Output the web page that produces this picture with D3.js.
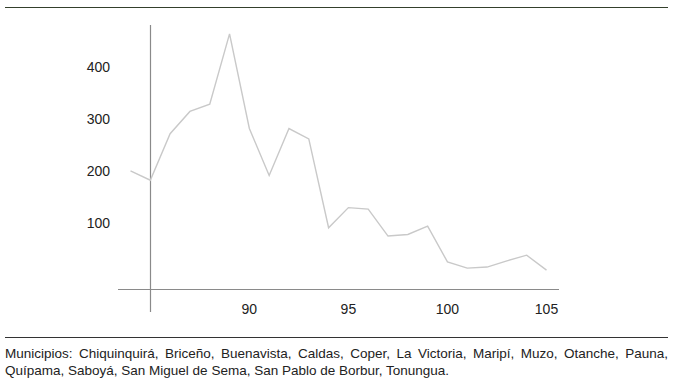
<!DOCTYPE html>
<html><head><meta charset="utf-8">
<script src="https://cdn.jsdelivr.net/npm/d3@7"></script>
<style>
html,body{margin:0;padding:0;background:#fff;}
svg{display:block;font-family:"Liberation Sans",Arial,Helvetica,sans-serif;}
</style></head>
<body>
<svg id="chart" width="674" height="379"></svg>
<script>
const years = [84,85,86,87,88,89,90,91,92,93,94,95,96,97,98,99,100,101,102,103,104,105];
const values = [200,182,272,315,329,465,282,191,282,262,90,129,126,74,77,93,24,12,14,26,37,8];
const yTicks = [100,200,300,400];
const xTicks = [90,95,100,105];
const noteLines = [
  "Municipios: Chiquinquirá, Briceño, Buenavista, Caldas, Coper, La Victoria, Maripí, Muzo, Otanche, Pauna,",
  "Quípama, Saboyá, San Miguel de Sema, San Pablo de Borbur, Tonungua."
];

const svg = d3.select("#chart");
const x = d3.scaleLinear().domain([84,105]).range([130.5,546.5]);
const y = d3.scaleLinear().domain([0,400]).range([274.3,67.5]);

// top & bottom rules
svg.append("line").attr("x1",5).attr("x2",668).attr("y1",7.5).attr("y2",7.5)
  .attr("stroke","#34402c").attr("stroke-width",1);
svg.append("line").attr("x1",5).attr("x2",668).attr("y1",337.5).attr("y2",337.5)
  .attr("stroke","#333").attr("stroke-width",1);

// axes lines
svg.append("line").attr("x1",150.5).attr("x2",150.5).attr("y1",25).attr("y2",312)
  .attr("stroke","#8a8a8a").attr("stroke-width",1.2);
svg.append("line").attr("x1",118).attr("x2",559).attr("y1",289.5).attr("y2",289.5)
  .attr("stroke","#8a8a8a").attr("stroke-width",1.2);

// y tick labels
svg.append("g").selectAll("text").data(yTicks).join("text")
  .attr("x",110).attr("y",d=>y(d)).attr("dy","0.35em")
  .attr("text-anchor","end").attr("font-size",14).attr("fill","#222")
  .text(d=>d);

// x tick labels
svg.append("g").selectAll("text").data(xTicks).join("text")
  .attr("x",d=>x(d)).attr("y",309).attr("dy","0.35em")
  .attr("text-anchor","middle").attr("font-size",14).attr("fill","#222")
  .text(d=>d);

// line
const line = d3.line().x((d,i)=>x(years[i])).y(d=>y(d));
svg.append("path").datum(values).attr("d",line)
  .attr("fill","none").attr("stroke","#c9c9c9").attr("stroke-width",1.4)
  .attr("stroke-linejoin","miter");

// note
const note = svg.append("g").attr("font-size",13.5).attr("fill","#222");
noteLines.forEach((t,i)=>{
  const el = note.append("text").attr("x",5).attr("y",357.5 + i*17).text(t);
  if(i===0){
    const len = el.node().getComputedTextLength();
    const spaces = (t.match(/ /g)||[]).length;
    el.attr("word-spacing",((663-len)/spaces).toFixed(2));
  }
});
</script>
</body></html>
